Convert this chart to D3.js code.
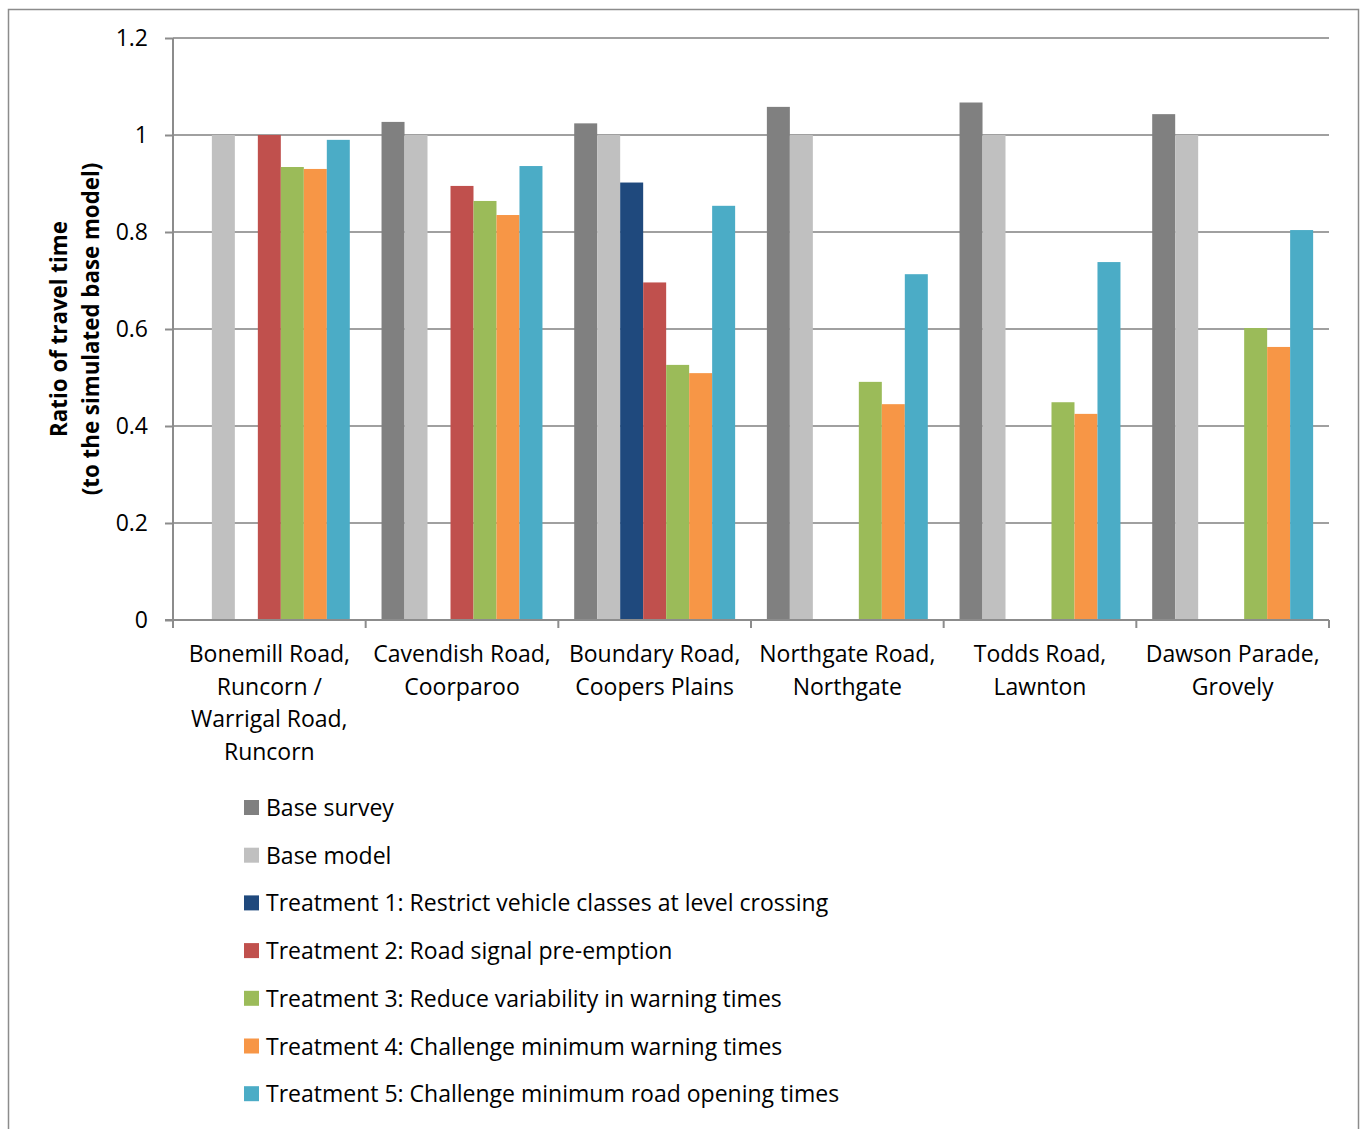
<!DOCTYPE html>
<html><head><meta charset="utf-8">
<script src="https://cdn.jsdelivr.net/npm/d3@7"></script>
<style>body{margin:0;background:#fff;} text{font-family:"Open Sans",sans-serif;}</style>
</head><body><svg id="c" width="1368" height="1129"></svg>
<script>
const categories = [
  ["Bonemill Road,","Runcorn /","Warrigal Road,","Runcorn"],
  ["Cavendish Road,","Coorparoo"],
  ["Boundary Road,","Coopers Plains"],
  ["Northgate Road,","Northgate"],
  ["Todds Road,","Lawnton"],
  ["Dawson Parade,","Grovely"]
];
const seriesNames = ["Base survey","Base model","Treatment 1: Restrict vehicle classes at level crossing","Treatment 2: Road signal pre-emption","Treatment 3: Reduce variability in warning times","Treatment 4: Challenge minimum warning times","Treatment 5: Challenge minimum road opening times"];
const seriesColors = ["#808080","#c0c0c0","#1f497d","#c0504d","#9bbb59","#f79646","#4bacc6"];
const baseSurvey = [null,1.027,1.024,1.058,1.067,1.043];
const baseModel  = [1,1,1,1,1,1];
const treatment1 = [null,null,0.902,null,null,null];
const treatment2 = [1.0,0.895,0.696,null,null,null];
const treatment3 = [0.934,0.864,0.526,0.491,0.449,0.602];
const treatment4 = [0.930,0.835,0.509,0.445,0.425,0.563];
const treatment5 = [0.990,0.936,0.854,0.713,0.738,0.804];
const yTicks = [0,0.2,0.4,0.6,0.8,1,1.2];
const yTickLabels = ["0","0.2","0.4","0.6","0.8","1","1.2"];
const series = [baseSurvey,baseModel,treatment1,treatment2,treatment3,treatment4,treatment5];

const svg = d3.select("#c");
const L=173,R=1329,T=38,B=620;
svg.append("rect").attr("x",8.5).attr("y",9.5).attr("width",1350).attr("height",1130)
  .attr("fill","none").attr("stroke","#8c8c8c").attr("stroke-width",1.5);

const x0 = d3.scaleBand().domain(d3.range(categories.length)).range([L,R]).paddingInner(0).paddingOuter(0);
const x1 = d3.scaleBand().domain(d3.range(series.length)).range([0,x0.bandwidth()]).paddingOuter(0.69).paddingInner(0);
const y = d3.scaleLinear().domain([0,1.2]).range([B,T]);

// gridlines
svg.append("g").selectAll("line").data(yTicks.filter(d=>d>0)).join("line")
  .attr("x1",L).attr("x2",R).attr("y1",d=>y(d)).attr("y2",d=>y(d))
  .attr("stroke","#a0a0a0").attr("stroke-width",2);

// bars
const g = svg.append("g");
series.forEach((s,si)=>{
  g.append("g").selectAll("rect").data(s.map((v,ci)=>({v,ci})).filter(d=>d.v!=null)).join("rect")
    .attr("x",d=>x0(d.ci)+x1(si)).attr("width",x1.bandwidth())
    .attr("y",d=>y(d.v)).attr("height",d=>B-y(d.v)).attr("fill",seriesColors[si]);
});

// y axis
const yAxis = d3.axisLeft(y).tickValues(yTicks).tickFormat((d,i)=>yTickLabels[i]).tickSize(8).tickPadding(17);
const ya = svg.append("g").attr("transform",`translate(${L},0)`).call(yAxis);
ya.select(".domain").attr("stroke","#8c8c8c").attr("stroke-width",2).attr("d",`M0,${T}V${B}`);
ya.selectAll(".tick line").attr("stroke","#8c8c8c").attr("stroke-width",2);
ya.selectAll(".tick text").attr("font-size",23).attr("fill","#000").attr("font-family","'Open Sans',sans-serif");

// x axis
const boundaries = d3.range(categories.length+1).map(i=> i<categories.length ? x0(i) : R);
svg.append("line").attr("x1",L-8).attr("x2",R).attr("y1",B).attr("y2",B).attr("stroke","#8c8c8c").attr("stroke-width",2);
svg.append("g").selectAll("line").data(boundaries).join("line")
  .attr("x1",d=>d).attr("x2",d=>d).attr("y1",B).attr("y2",B+8).attr("stroke","#8c8c8c").attr("stroke-width",2);
const xl = svg.append("g").selectAll("text").data(categories).join("text")
  .attr("x",(d,i)=>x0(i)+x0.bandwidth()/2).attr("y",662)
  .attr("text-anchor","middle").attr("font-size",23).attr("fill","#000");
xl.each(function(d){
  d3.select(this).selectAll("tspan").data(d).join("tspan")
    .attr("x",d3.select(this).attr("x")).attr("dy",(t,j)=>j===0?0:32.5).text(t=>t);
});

// y title
const yt = svg.append("text").attr("transform","translate(67,329) rotate(-90)")
  .attr("text-anchor","middle").attr("font-size",22.3).attr("font-weight","bold").attr("fill","#000");
yt.append("tspan").attr("x",0).attr("dy",0).text("Ratio of travel time");
yt.append("tspan").attr("x",0).attr("dy",32).text("(to the simulated base model)");

// legend
const lg = svg.append("g").selectAll("g").data(seriesNames).join("g")
  .attr("transform",(d,i)=>`translate(244,${808+i*47.7})`);
lg.append("rect").attr("x",0).attr("y",-8).attr("width",15).attr("height",15).attr("fill",(d,i)=>seriesColors[i]);
lg.append("text").attr("x",22).attr("y",0).attr("dy","0.35em").attr("font-size",23).attr("fill","#000").text(d=>d);
</script></body></html>
